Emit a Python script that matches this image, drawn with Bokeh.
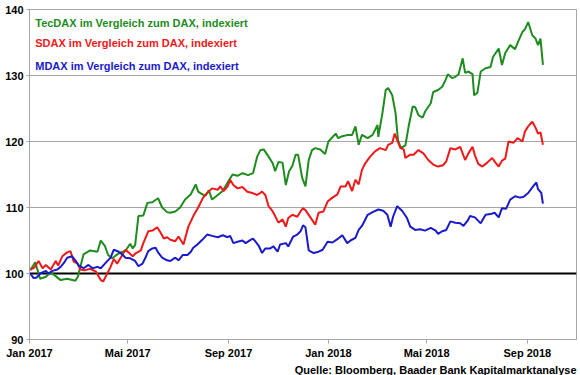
import pandas as pd
from bokeh.plotting import figure
from bokeh.models import Range1d, FixedTicker, Span, Label, Title
from bokeh.embed import file_html
from bokeh.resources import INLINE

# ---------------- data ----------------
base_date = "2017-01-01"          # day offsets below are counted from this date
axis_end = "2018-10-31"

tick_dates = ["2017-01-01", "2017-05-01", "2017-09-01", "2018-01-01", "2018-05-01", "2018-09-01"]
tick_labels = ["Jan 2017", "Mai 2017", "Sep 2017", "Jan 2018", "Mai 2018", "Sep 2018"]
y_ticks = [90, 100, 110, 120, 130, 140]

series_names = ["TecDAX im Vergleich zum DAX, indexiert",
                "SDAX im Vergleich zum DAX, indexiert",
                "MDAX im Vergleich zum DAX, indexiert"]
source_text = "Quelle: Bloomberg, Baader Bank Kapitalmarktanalyse"

tec_day = [1, 7, 13, 20, 26, 32, 38, 46, 56, 59, 66, 74, 83, 87, 92, 96, 101, 105, 111, 117,
           123, 126, 129, 133, 139, 144, 150, 157, 162, 168, 172, 178, 184, 190, 197, 203, 206, 211, 215, 219,
           223, 231, 236, 243, 248, 254, 260, 267, 273, 278, 282, 286, 291, 297, 300, 304, 309, 313, 317, 321,
           325, 328, 333, 337, 341, 345, 349, 355, 361, 365, 374, 377, 382, 389, 394, 398, 402, 406, 413, 419,
           425, 426, 431, 435, 438, 443, 447, 450, 453, 455, 459, 463, 468, 471, 475, 480, 483, 490, 493, 499,
           504, 508, 511, 516, 520, 524, 529, 532, 536, 541, 543, 547, 551, 557, 563, 566, 573, 577, 581, 587,
           593, 597, 602, 605, 609, 614, 618, 621, 624, 627]
tec_val = [100.5, 101.7, 99.2, 99.5, 100.2, 99.6, 99.0, 99.2, 98.9, 99.5, 102.9, 103.5, 103.3, 105.0, 104.2, 102.8, 102.3, 102.7, 103.2, 103.4,
           104.5, 103.8, 104.3, 108.7, 108.8, 110.7, 110.8, 111.4, 110.0, 109.3, 109.2, 109.4, 110.0, 111.2, 112.0, 113.5, 112.4, 112.0, 111.8, 112.6,
           111.2, 112.0, 112.5, 114.0, 115.0, 114.8, 115.2, 114.9, 115.2, 117.7, 118.7, 118.8, 117.9, 116.7, 115.5, 116.9, 116.8, 113.4, 115.5, 116.3,
           118.0, 118.0, 114.5, 113.2, 117.2, 118.7, 119.0, 118.8, 118.1, 120.0, 121.2, 120.5, 120.8, 121.0, 121.0, 122.3, 119.5, 121.0, 120.5, 121.0,
           122.5, 120.7, 124.3, 127.8, 128.1, 127.0, 124.3, 120.2, 119.2, 119.1, 119.4, 122.3, 125.3, 125.2, 124.0, 123.6, 124.5, 125.8, 127.5, 127.8,
           128.3, 129.3, 130.2, 129.6, 129.8, 130.2, 132.6, 130.4, 130.6, 130.2, 127.0, 127.4, 130.6, 131.1, 131.3, 132.8, 134.1, 131.6, 133.4, 134.6,
           134.0, 135.2, 136.6, 137.0, 138.1, 136.1, 135.6, 134.6, 135.6, 131.6]

sdax_day = [1, 6, 11, 16, 20, 26, 32, 35, 40, 46, 50, 54, 59, 62, 67, 74, 81, 87, 90, 95,
            99, 103, 107, 111, 117, 121, 126, 129, 136, 139, 145, 150, 156, 160, 164, 168, 172, 178, 182, 188,
            194, 200, 206, 212, 217, 223, 230, 233, 237, 242, 245, 249, 254, 260, 266, 272, 278, 284, 288, 292,
            297, 300, 304, 309, 313, 316, 321, 327, 331, 334, 337, 343, 349, 353, 359, 364, 370, 376, 380, 386,
            389, 394, 398, 402, 406, 410, 416, 422, 428, 435, 438, 443, 446, 449, 453, 457, 459, 465, 469, 475,
            481, 487, 493, 499, 505, 509, 514, 520, 526, 532, 536, 541, 544, 548, 553, 559, 565, 569, 573, 577,
            581, 585, 591, 596, 602, 605, 609, 614, 618, 621, 624, 627]
sdax_val = [100.6, 100.9, 101.9, 100.8, 101.3, 100.6, 101.9, 101.2, 102.6, 103.2, 103.4, 101.8, 101.5, 100.6, 100.5, 100.7, 100.3, 99.0, 98.8, 100.0,
            101.0, 102.2, 101.5, 102.3, 103.6, 103.2, 102.6, 103.0, 103.5, 104.6, 106.4, 106.5, 107.0, 106.2, 105.3, 105.5, 105.1, 104.9, 105.6, 104.4,
            107.1, 108.7, 110.0, 111.5, 112.2, 112.9, 112.7, 113.2, 112.5, 113.2, 114.2, 113.4, 112.9, 113.1, 112.4, 112.2, 111.9, 112.4, 111.9, 110.2,
            109.4, 108.7, 107.7, 108.2, 107.1, 108.4, 108.9, 108.6, 109.4, 109.9, 109.6, 108.5, 107.4, 109.2, 109.4, 110.9, 111.5, 112.0, 113.2, 113.2,
            114.0, 112.5, 114.2, 113.5, 115.7, 116.7, 117.7, 118.5, 119.0, 118.7, 119.5, 119.8, 121.2, 120.2, 119.0, 118.8, 117.5, 118.0, 118.0, 118.7,
            118.2, 117.2, 116.5, 116.2, 116.4, 117.0, 119.0, 118.8, 119.2, 117.2, 118.2, 119.2, 117.9, 116.6, 116.2, 116.8, 117.5, 116.8, 116.2, 117.1,
            117.4, 120.0, 119.8, 120.5, 120.0, 121.5, 122.3, 123.0, 122.1, 121.2, 121.4, 119.5]

mdax_day = [1, 5, 9, 13, 20, 23, 28, 34, 38, 42, 46, 52, 56, 60, 66, 72, 77, 83, 87, 93,
            99, 103, 109, 114, 117, 123, 129, 133, 138, 142, 145, 150, 154, 157, 162, 168, 172, 178, 182, 187,
            193, 197, 200, 205, 211, 217, 223, 230, 236, 242, 245, 249, 254, 260, 264, 270, 273, 280, 284, 288,
            294, 298, 303, 306, 313, 316, 322, 327, 331, 334, 337, 341, 347, 353, 358, 364, 370, 376, 382, 388,
            392, 398, 402, 406, 413, 419, 426, 432, 437, 441, 444, 449, 455, 461, 465, 471, 477, 483, 490, 496,
            499, 504, 509, 514, 520, 526, 530, 535, 538, 544, 551, 557, 563, 568, 573, 577, 582, 587, 593, 599,
            603, 609, 615, 619, 621, 625, 627]
mdax_val = [100.0, 99.3, 99.4, 100.0, 100.4, 100.0, 100.4, 100.6, 101.0, 101.6, 102.4, 102.6, 102.0, 101.2, 100.8, 101.3, 100.8, 101.0, 100.8, 101.6,
            102.4, 103.6, 103.3, 102.8, 102.4, 102.3, 101.9, 101.1, 101.5, 102.5, 103.4, 103.8, 103.9, 103.2, 102.4, 102.0, 101.9, 102.4, 102.0, 102.8,
            102.8, 103.3, 103.9, 104.4, 105.1, 105.9, 105.7, 105.5, 105.8, 105.5, 105.7, 104.6, 104.8, 105.0, 104.6, 105.1, 105.3, 104.2, 103.1, 103.8,
            103.8, 104.1, 103.3, 104.4, 104.6, 104.1, 105.6, 105.9, 106.4, 107.3, 107.0, 103.5, 103.1, 103.3, 103.6, 104.8, 104.7, 105.2, 105.8, 104.6,
            105.0, 105.4, 106.6, 107.2, 108.9, 109.3, 109.7, 109.5, 108.9, 107.1, 108.6, 110.2, 109.5, 108.4, 107.1, 106.6, 106.7, 106.5, 106.9, 106.5,
            106.0, 106.4, 106.6, 107.9, 107.7, 107.6, 107.2, 108.0, 108.7, 108.5, 107.6, 108.9, 109.0, 109.2, 108.5, 109.9, 109.8, 111.2, 111.7, 111.5,
            111.6, 112.2, 113.2, 113.8, 112.8, 112.2, 110.6]

# ---------------- figure ----------------
base = pd.Timestamp(base_date)
end = pd.Timestamp(axis_end)


def to_dates(days):
    return [base + pd.Timedelta(days=d) for d in days]


FONT = "Liberation Sans"
GREEN, RED, BLUE = "#1e8c1e", "#f01818", "#1a1acc"
GRAY = "#a6a6a6"

p = figure(width=580, height=375, x_axis_type="datetime",
           output_backend="svg", toolbar_location=None,
           x_range=Range1d(base, end),
           y_range=Range1d(y_ticks[0], y_ticks[-1]),
           min_border_left=29, min_border_right=4, min_border_top=9, min_border_bottom=0)
p.background_fill_color = "white"
p.border_fill_color = "white"
p.outline_line_color = GRAY
p.outline_line_width = 1

# axes
tick_ms = [pd.Timestamp(d).value // 10**6 for d in tick_dates]
p.xaxis.ticker = FixedTicker(ticks=tick_ms)
p.xaxis.major_label_overrides = {t: l for t, l in zip(tick_ms, tick_labels)}
p.yaxis.ticker = FixedTicker(ticks=y_ticks)
for ax in (p.xaxis, p.yaxis):
    ax.axis_line_color = GRAY
    ax.major_tick_line_color = GRAY
    ax.minor_tick_line_color = None
    ax.major_tick_in = 0
    ax.major_label_text_font = FONT
    ax.major_label_text_font_style = "bold"
    ax.major_label_text_font_size = "11px"
    ax.major_label_text_color = "black"
p.xaxis.major_tick_out = 4
p.xaxis.major_label_standoff = 3
p.yaxis.major_tick_out = 3
p.yaxis.major_label_standoff = 3

p.xgrid.visible = False
p.ygrid.ticker = FixedTicker(ticks=y_ticks)
p.ygrid.grid_line_color = GRAY
p.ygrid.grid_line_width = 1

p.add_layout(Span(location=100, dimension="width", line_color="black",
                  line_width=2, level="underlay"))

p.line(to_dates(tec_day), tec_val, line_color=GREEN, line_width=2)
p.line(to_dates(sdax_day), sdax_val, line_color=RED, line_width=2)
p.line(to_dates(mdax_day), mdax_val, line_color=BLUE, line_width=2)

for name, col, yv in zip(series_names, [GREEN, RED, BLUE], [138.0, 134.85, 131.5]):
    p.add_layout(Label(x=base + pd.Timedelta(days=7), y=yv, text=name, text_color=col,
                       text_font=FONT, text_font_style="bold", text_font_size="11px",
                       text_baseline="middle"))

p.add_layout(Title(text=source_text, align="right", text_font=FONT,
                   text_font_style="bold", text_font_size="11px", standoff=0,
                   text_color="black"), "below")

open("out.html", "w").write(file_html(p, INLINE))
